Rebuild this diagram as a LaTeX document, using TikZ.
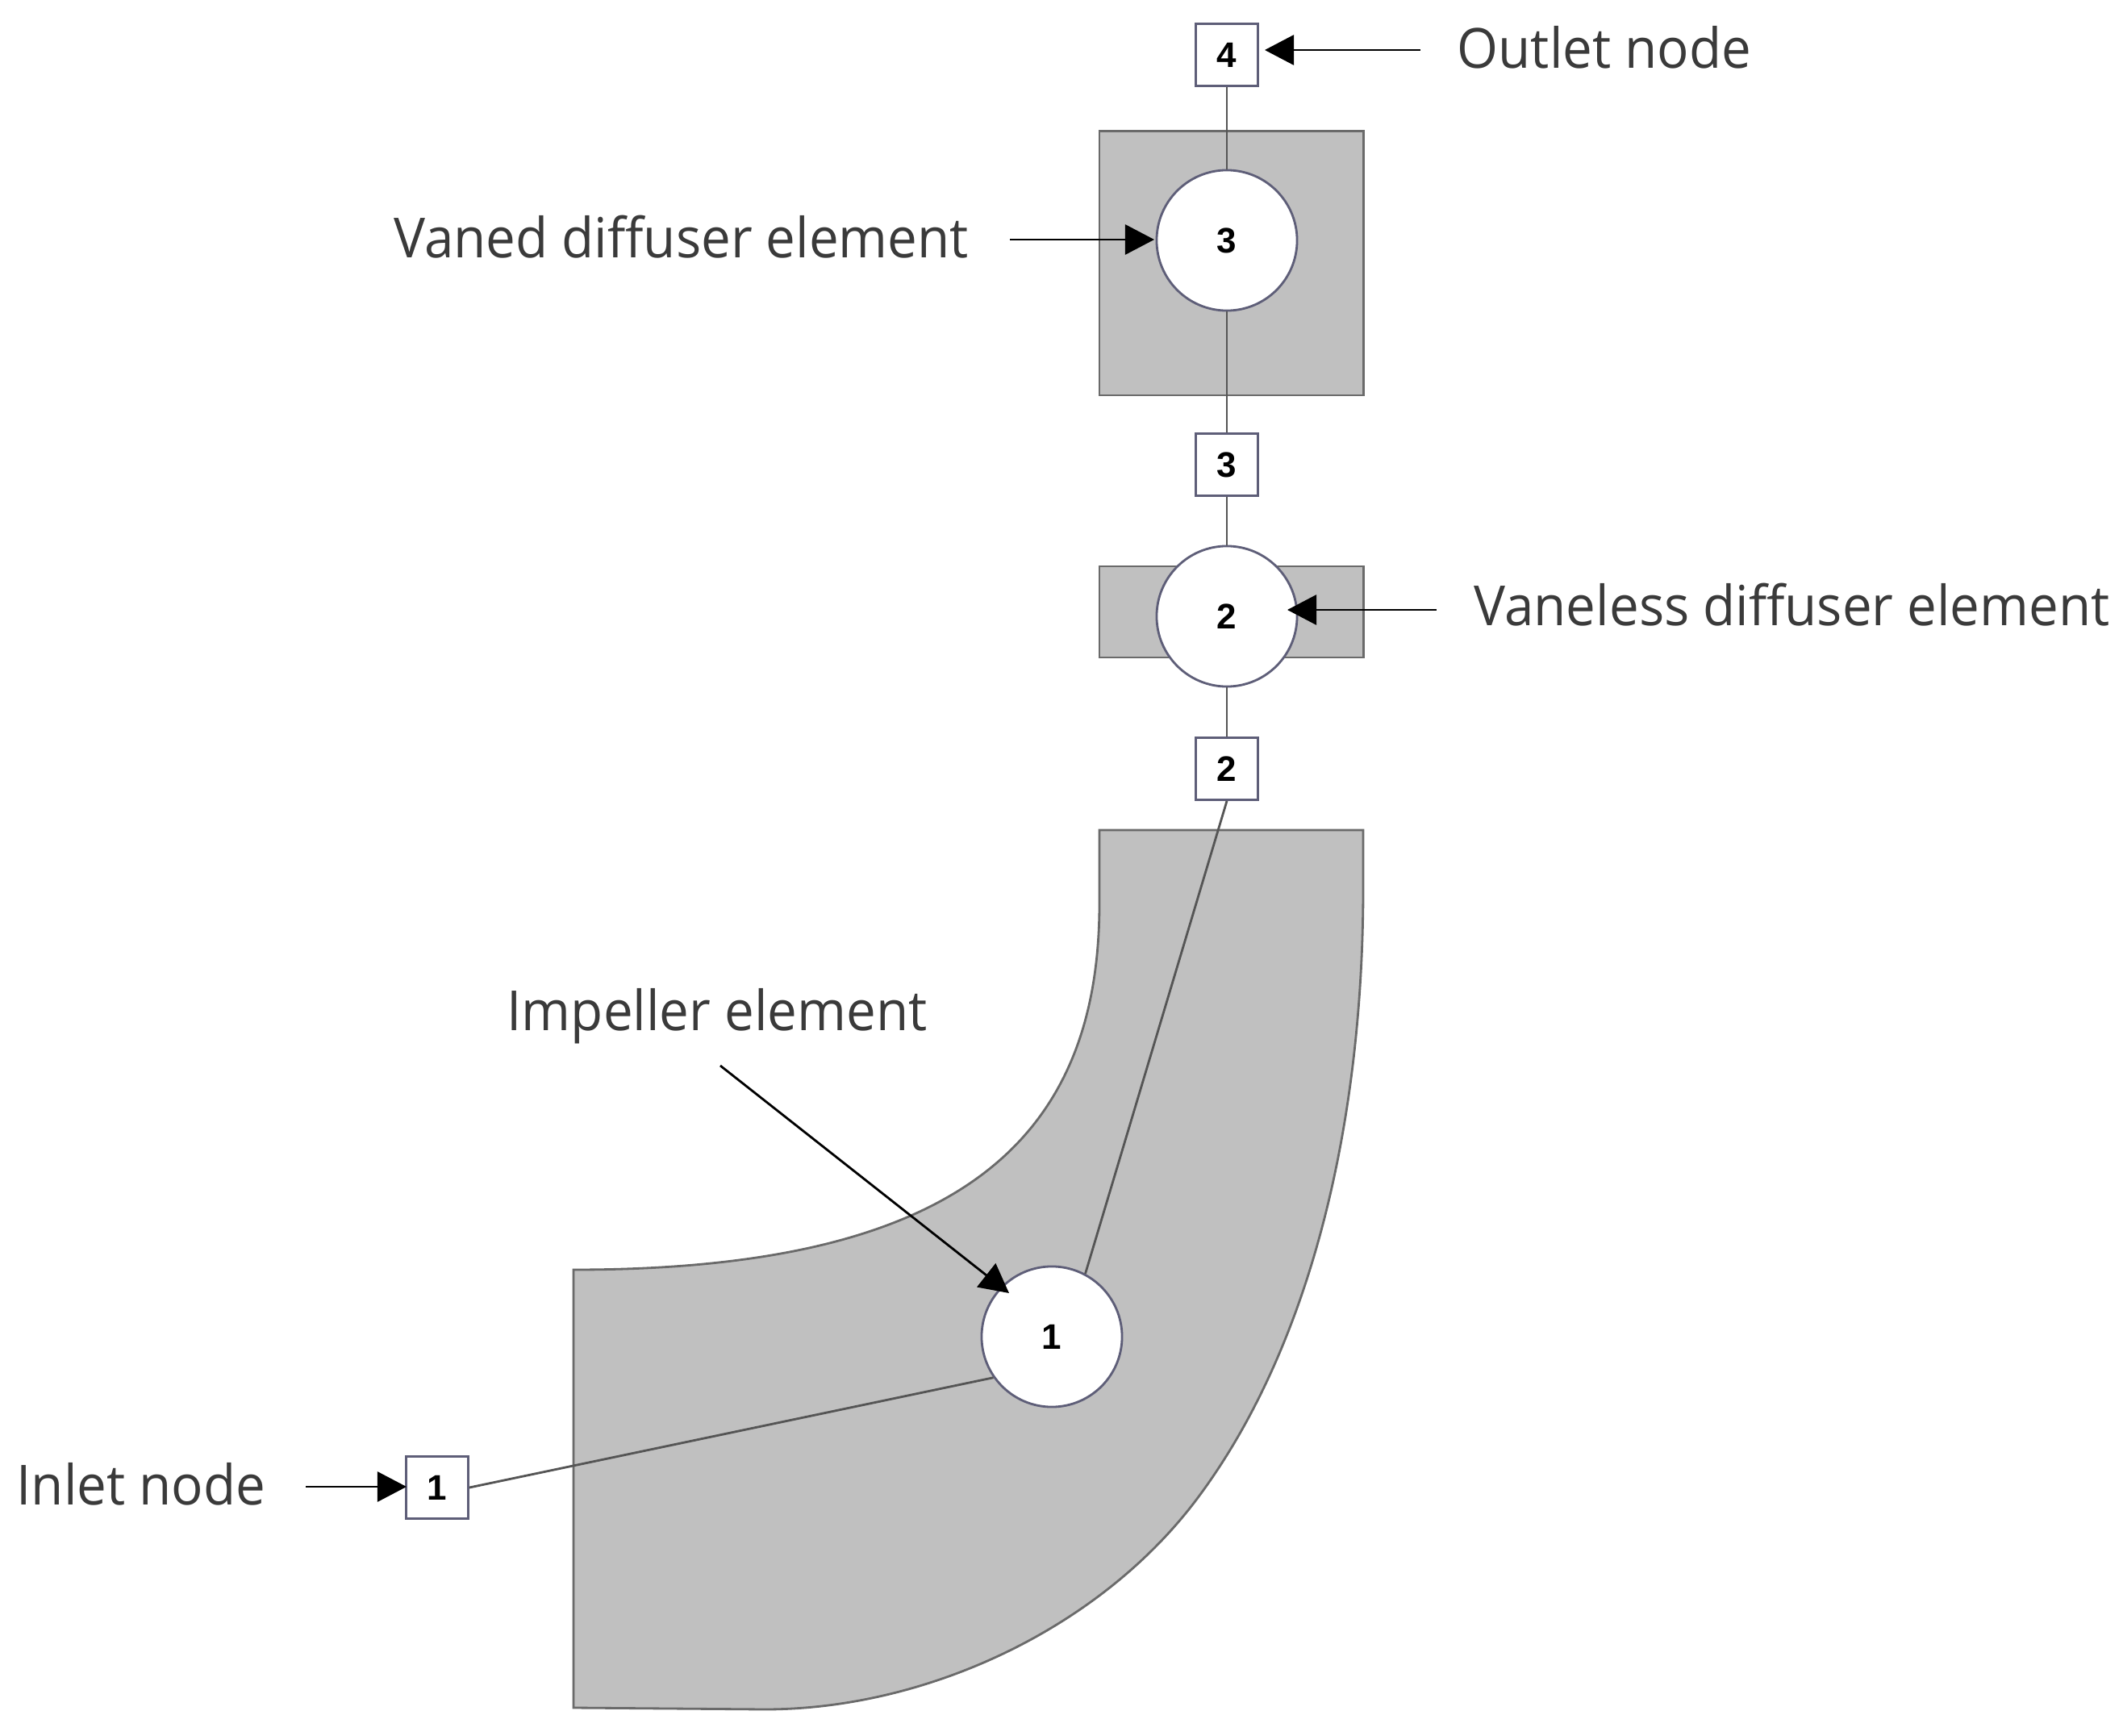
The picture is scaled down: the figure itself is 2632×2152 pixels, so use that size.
\documentclass[tikz,border=0pt]{standalone}
\usepackage{fontspec}
\setmainfont[FakeStretch=0.955]{Open Sans}
\newfontfamily\digitfont{Liberation Sans}
\usetikzlibrary{arrows.meta}
\definecolor{shade}{HTML}{C0C0C0}
\definecolor{shapeedge}{HTML}{6A6A6A}
\definecolor{nodeedge}{HTML}{5E5E78}
\definecolor{labelink}{HTML}{3A3A3A}
\tikzset{
  px/.style={x=0.01cm,y=-0.01cm},
  shadebox/.style={draw=shapeedge,fill=shade,line width=0.8pt,inner sep=0pt,minimum width=3.27cm},
  station/.style={draw=nodeedge,fill=white,line width=0.8pt,inner sep=0pt,minimum size=0.77cm,font=\digitfont\bfseries\fontsize{12.5}{14}\selectfont,text=black},
  element/.style={circle,draw=nodeedge,fill=white,line width=0.8pt,inner sep=0pt,minimum size=1.74cm,font=\digitfont\bfseries\fontsize{12.5}{14}\selectfont,text=black},
  link/.style={draw=shapeedge!80!black,line width=0.8pt},
  callout/.style={draw=black,line width=0.8pt,-{Triangle[length=0.36cm,width=0.37cm]}},
  caption/.style={anchor=base west,inner sep=0pt,text=labelink,font=\fontsize{19.5}{24}\selectfont},
}
\begin{document}
\begin{tikzpicture}[px]
\useasboundingbox (0,0) rectangle (2632,2152);
% gray flow passages
\draw[draw=shapeedge,fill=shade,line width=0.8pt]
  (1363,1029) -- (1690,1029) -- (1690,1100)
  .. controls (1690,1400) and (1622,1674) .. (1484,1858)
  .. controls (1364,2018) and (1150,2119) .. (948,2119)
  -- (711,2117) -- (711,1574)
  .. controls (1180,1574) and (1363,1420) .. (1363,1120)
  -- cycle;
\node[shadebox,minimum height=3.27cm] (vaned) at (1526.5,326.5) {};
\node[shadebox,minimum height=1.13cm] (vaneless) at (1526.5,758.5) {};
% stations and elements
\node[station] (b4) at (1521,68) {4};
\node[element] (c3) at (1521,298) {3};
\node[station] (b3) at (1521,576) {3};
\node[element] (c2) at (1521,764) {2};
\node[station] (b2) at (1521,953) {2};
\node[element] (c1) at (1304,1657) {1};
\node[station] (b1) at (542,1844) {1};
% network
\draw[link] (b4) -- (c3);
\draw[link] (c3) -- (b3);
\draw[link] (b3) -- (c2);
\draw[link] (c2) -- (b2);
\draw[link] (b2.south) -- (c1.62.5);
\draw[link] (b1.east) -- (c1.215.6);
% labels
\node[caption] (outlet) at (1806,85) {Outlet node};
\node[caption] (vanedlabel) at (488,320) {Vaned diffuser element};
\node[caption] (vanelesslabel) at (1827,775) {Vaneless diffuser element};
\node[caption] (impeller) at (628,1277) {Impeller element};
\node[caption] (inlet) at (20,1865) {Inlet node};
% callouts
\coordinate (s4) at (1761,62);   \coordinate (t4) at (1568,62);
\coordinate (s3) at (1252,297);  \coordinate (t3) at (1431,297);
\coordinate (s2) at (1781,756);  \coordinate (t2) at (1596,756);
\coordinate (s1) at (893,1321);  \coordinate (t1) at (1251,1603);
\coordinate (s0) at (379,1843);  \coordinate (t0) at (504,1843);
\draw[callout] (s4) -- (t4);
\draw[callout] (s3) -- (t3);
\draw[callout] (s2) -- (t2);
\draw[callout] (s1) -- (t1);
\draw[callout] (s0) -- (t0);
\end{tikzpicture}
\end{document}
